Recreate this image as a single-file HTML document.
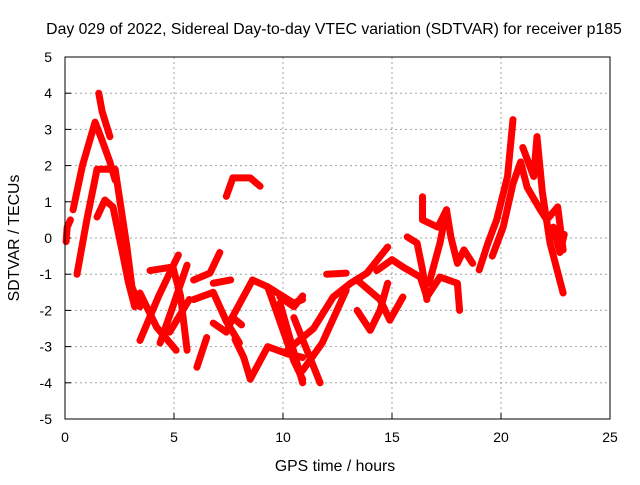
<!DOCTYPE html>
<html><head><meta charset="utf-8"><style>
body{margin:0;background:#fff}
svg text{font-family:"Liberation Sans",sans-serif;font-size:14px;fill:#000}
svg text.big{font-size:15.8px}
</style></head><body>
<svg id="chart" width="640" height="480">
<text class="big" x="334" y="34" text-anchor="middle">Day 029 of 2022, Sidereal Day-to-day VTEC variation (SDTVAR) for receiver p185</text>
<text class="big" x="335" y="471" text-anchor="middle">GPS time / hours</text>
<text class="big" transform="translate(19,238) rotate(-90)" text-anchor="middle">SDTVAR / TECUs</text>
<g id="grid"></g><g id="ticks"></g><g id="series"></g>
<rect x="65" y="57" width="545" height="362" fill="none" stroke="#000" stroke-width="1"/>
</svg>
<script>
const xTicks=[0,5,10,15,20,25];
const yTicks=[-5,-4,-3,-2,-1,0,1,2,3,4,5];
const track1=[[0.05,-0.1],[0.1,0.3],[0.25,0.5]];
const track2=[[0.37,0.78],[0.8,2.0],[1.38,3.2],[1.7,2.7],[2.06,2.1],[2.3,1.6]];
const track3=[[1.55,4.0],[1.7,3.5],[2.06,2.8]];
const track4=[[0.55,-1.0],[1.0,0.5],[1.47,1.9],[1.9,1.9],[2.3,1.9],[2.84,-0.25],[3.07,-1.35],[3.44,-1.9]];
const track5=[[1.47,0.58],[1.83,1.05],[2.2,0.86],[2.6,-0.3],[2.9,-1.2],[3.2,-1.9]];
const track6=[[3.44,-2.83],[4.3,-1.6],[5.2,-0.47]];
const track7=[[3.44,-1.52],[4.2,-2.46],[5.1,-3.1]];
const track8=[[4.36,-2.9],[5.0,-1.8],[5.6,-0.75]];
const track9=[[3.9,-0.9],[4.95,-0.8],[5.3,-1.6],[5.6,-3.1]];
const track10=[[4.8,-2.6],[5.7,-1.7]];
const track11=[[6.05,-3.57],[6.5,-2.75]];
const track12=[[5.9,-1.16],[6.65,-0.97],[7.1,-0.4]];
const track13=[[5.9,-1.7],[6.8,-1.5],[7.4,-2.3],[8.0,-2.9]];
const track14=[[6.8,-1.25],[7.6,-1.16]];
const track15=[[6.8,-2.35],[7.4,-2.6],[7.7,-2.2],[8.1,-2.4]];
const track16=[[7.6,-2.27],[8.6,-1.16],[9.3,-1.35],[10.5,-1.8],[10.9,-1.7]];
const track17=[[9.3,-1.35],[10.5,-3.4],[10.9,-3.9]];
const track18=[[7.8,-2.8],[8.2,-3.3],[8.5,-3.9],[9.3,-3.0],[10.2,-3.2],[10.9,-3.3]];
const track19=[[7.4,1.15],[7.7,1.66],[8.5,1.66],[8.95,1.43]];
const track20=[[9.86,-1.63],[10.5,-1.9],[10.9,-1.6]];
const track21=[[9.86,-1.8],[10.9,-4.0]];
const track22=[[10.5,-2.2],[11.7,-4.0]];
const track23=[[10.2,-3.1],[11.4,-2.5],[12.3,-1.63],[13.1,-1.25],[13.85,-0.97],[14.8,-0.25]];
const track24=[[10.9,-3.66],[11.8,-2.9],[12.9,-1.44]];
const track25=[[12.0,-1.0],[12.9,-0.97]];
const track26=[[13.4,-1.16],[14.45,-1.7],[14.9,-2.27],[15.5,-1.63]];
const track27=[[13.4,-2.0],[14.0,-2.55],[14.45,-2.0],[14.8,-1.25]];
const track28=[[14.3,-0.9],[15.0,-0.6],[15.5,-0.8],[16.3,-1.08],[16.6,-1.63],[17.2,-1.08],[18.0,-1.25],[18.1,-2.0]];
const track29=[[15.7,0.03],[16.15,-0.14],[16.4,-0.88],[16.6,-1.7]];
const track30=[[16.4,1.14],[16.4,0.5],[17.1,0.3],[17.5,0.78],[17.7,0.03],[18.0,-0.7],[18.3,-0.33],[18.7,-0.7]];
const track31=[[17.5,0.78],[17.2,-0.14],[16.7,-1.25]];
const track32=[[19.0,-0.88],[19.4,-0.14],[19.8,0.5],[20.3,1.7],[20.55,3.27]];
const track33=[[19.6,-0.5],[20.1,0.3],[20.55,1.5],[20.9,2.1],[21.2,1.4],[21.8,0.78],[22.1,0.5],[22.6,0.86],[22.85,-0.33]];
const track34=[[21.0,2.5],[21.5,1.7],[21.65,2.8],[21.9,1.25],[22.25,-0.14],[22.85,-1.52]];
const track35=[[22.4,0.3],[22.7,-0.4],[22.9,0.1]];
const tracks=[track1,track2,track3,track4,track5,track6,track7,track8,track9,track10,track11,track12,track13,track14,track15,track16,track17,track18,track19,track20,track21,track22,track23,track24,track25,track26,track27,track28,track29,track30,track31,track32,track33,track34,track35];
const NS='http://www.w3.org/2000/svg';
const X=h=>65+h*545/25, Y=v=>238-v*36.2;
const grid=document.getElementById('grid'),ticks=document.getElementById('ticks'),ser=document.getElementById('series');
function mk(tag,a,p){const e=document.createElementNS(NS,tag);for(const k in a)e.setAttribute(k,a[k]);p.appendChild(e);return e;}
xTicks.forEach(t=>{
 if(t>0&&t<25){const g=mk('line',{x1:X(t),x2:X(t),y1:57,y2:419,stroke:'#a0a0a0','stroke-dasharray':'2,3'},grid);
 
 }
 const l=mk('text',{x:X(t),y:442,'text-anchor':'middle'},ticks);l.textContent=t;
 
 
 mk('line',{x1:X(t),x2:X(t),y1:419,y2:413,stroke:'#000'},ticks);
});
yTicks.forEach(t=>{
 if(t>-5&&t<5){const g=mk('line',{x1:65,x2:610,y1:Y(t),y2:Y(t),stroke:'#a0a0a0','stroke-dasharray':'2,3'},grid);
 
 }
 const l=mk('text',{x:52,y:Y(t)+5,'text-anchor':'end'},ticks);l.textContent=t;
 
 
 mk('line',{x1:65,x2:71,y1:Y(t),y2:Y(t),stroke:'#000'},ticks);
});
tracks.forEach(tr=>{
 const p=mk('polyline',{points:tr.map(d=>X(d[0])+','+Y(d[1])).join(' '),fill:'none',stroke:'#f00','stroke-width':7,'stroke-linejoin':'round','stroke-linecap':'round'},ser);
 
 
});
</script>
</body></html>
